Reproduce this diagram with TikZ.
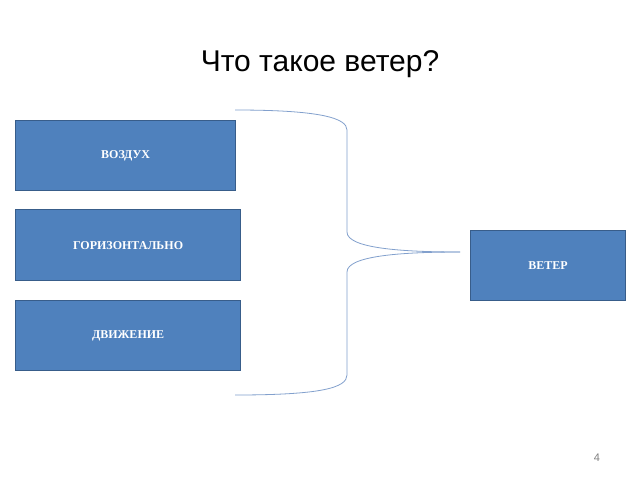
\documentclass[tikz,border=0pt]{standalone}
\usepackage{fontspec}
\setmainfont{Liberation Serif}
\newfontfamily\titlefont{Liberation Sans}
\definecolor{boxFill}{RGB}{79,129,189}
\definecolor{boxLine}{RGB}{56,93,138}
\definecolor{braceColor}{RGB}{130,160,205}
\tikzset{
  word/.style={draw=boxLine,line width=1.2pt,fill=boxFill,text=white,
    font=\bfseries\fontsize{12}{14}\selectfont,anchor=north west,inner sep=0pt},
  brace/.style={draw=braceColor,line width=0.8pt}
}
\begin{document}
\begin{tikzpicture}[x=1pt,y=-1pt]
\path[use as bounding box,fill=white] (0,0) rectangle (640,480);

% title
\node[font=\titlefont\fontsize{30}{34}\selectfont] (title) at (320,64) {Что такое ветер?};

% words
\node[word,minimum width=220pt,minimum height=70pt] (air) at (15,120) {ВОЗДУХ};
\node[word,minimum width=225pt,minimum height=71pt] (horiz) at (15,209) {ГОРИЗОНТАЛЬНО};
\node[word,minimum width=225pt,minimum height=70pt] (move) at (15,300) {ДВИЖЕНИЕ};
\node[word,minimum width=155pt,minimum height=70pt] (wind) at (470,230) {ВЕТЕР};

% brace
\coordinate (top) at (235,110);
\coordinate (bot) at (235,395);
\coordinate (tip) at (460,252);
\draw[brace] (top) .. controls (320,110) and (347,118) .. (347,130) -- (347,232)
  .. controls (347,248) and (400,252) .. (tip);
\draw[brace] (bot) .. controls (320,395) and (347,388) .. (347,375) -- (347,272)
  .. controls (347,256) and (400,252) .. (tip);

% page number
\node[text=gray,font=\titlefont\fontsize{11}{13}\selectfont] (page) at (597,458) {4};
\end{tikzpicture}
\end{document}
